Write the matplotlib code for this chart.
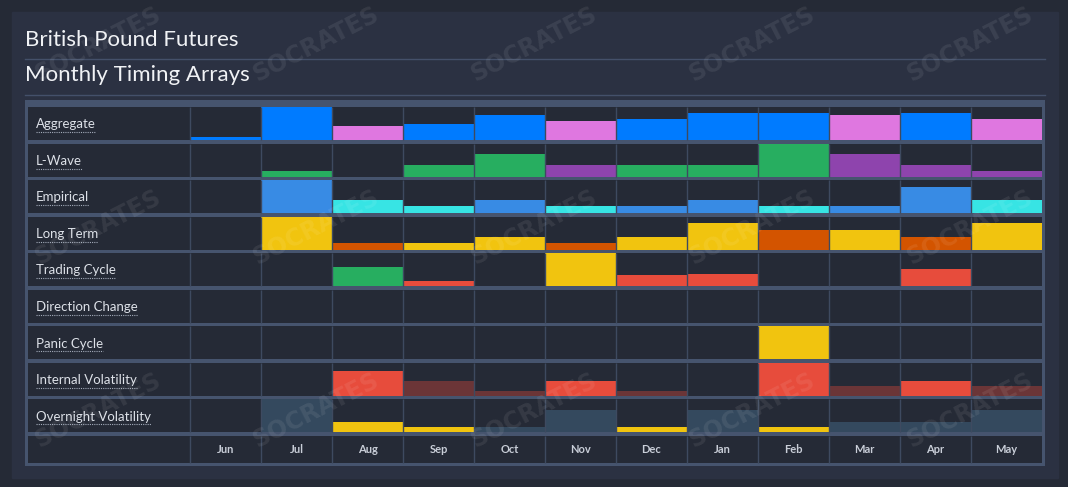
import numpy as np
import matplotlib
matplotlib.use('Agg')
import matplotlib.pyplot as plt
from matplotlib.patches import Rectangle

# --- data ---
months = ['Jun', 'Jul', 'Aug', 'Sep', 'Oct', 'Nov',
          'Dec', 'Jan', 'Feb', 'Mar', 'Apr', 'May']
arrays = ['Aggregate', 'L-Wave', 'Empirical', 'Long Term', 'Trading Cycle',
          'Direction Change', 'Panic Cycle', 'Internal Volatility',
          'Overnight Volatility']

aggregate = [0.08, 1.0, 0.41, 0.49, 0.75, 0.58, 0.65, 0.82, 0.82, 0.75, 0.82, 0.65]
aggregate_k = 'BBPBBPBBBPBP'
lwave = [0, 0.17, 0, 0.34, 0.67, 0.34, 0.34, 0.34, 1.0, 0.67, 0.34, 0.17]
lwave_k = 'GGGGGVGGGVVV'
empirical = [0, 1.0, 0.41, 0.21, 0.41, 0.21, 0.21, 0.41, 0.21, 0.21, 0.79, 0.41]
empirical_k = 'LLCCLCLLCLLC'
longterm = [0, 1.0, 0.2, 0.2, 0.39, 0.2, 0.39, 0.8, 0.59, 0.59, 0.39, 0.8]
longterm_k = 'YYOYYOYYOYOY'
trading = [0, 0, 0.57, 0.15, 0, 1.0, 0.33, 0.38, 0, 0, 0.53, 0]
trading_k = 'RRGRRYRRRRRR'
direction = [0] * 12
direction_k = 'YYYYYYYYYYYY'
panic = [0, 0, 0, 0, 0, 0, 0, 0, 1.0, 0, 0, 0]
panic_k = 'YYYYYYYYYYYY'
internal = [0, 0, 0.74, 0.44, 0.15, 0.44, 0.15, 0, 1.0, 0.29, 0.44, 0.29]
internal_k = 'RRRDDRDRRDRD'
overnight = [0, 1.0, 0.33, 0.15, 0.15, 0.67, 0.15, 0.67, 0.15, 0.33, 0.33, 0.67]
overnight_k = 'SSYYSSYSYSSS'

values = [aggregate, lwave, empirical, longterm, trading,
          direction, panic, internal, overnight]
kinds = [aggregate_k, lwave_k, empirical_k, longterm_k, trading_k,
         direction_k, panic_k, internal_k, overnight_k]

palette = {'B': '#007bff', 'P': '#df77e0', 'G': '#27ae60', 'V': '#8e44ad',
           'L': '#388be4', 'C': '#37e4e4', 'Y': '#f1c40f', 'O': '#d35400',
           'R': '#e74c3c', 'D': '#6b3537', 'S': '#34495e'}

W, H = 1068, 487
BG = '#252a36'
PANEL = '#2b3142'
FRAME = '#46546e'
CELL = '#252a36'
VLINE = '#3e4a60'
TXT = '#dde1e8'
plt.rcParams['font.family'] = ['Lato', 'DejaVu Sans']


def fx(x):
    return x / W


def fy(y):
    return 1 - y / H


fig = plt.figure(figsize=(W / 100, H / 100), dpi=100, facecolor=BG)
fig.patches.append(Rectangle((fx(12), fy(478)), 1046 / W, 466 / H,
                             transform=fig.transFigure, color=PANEL, zorder=-5))

# titles and separators
fig.text(fx(25), fy(46), 'British Pound Futures', fontsize=16,
         color='#f0f2f5', va='baseline')
fig.text(fx(25), fy(81), 'Monthly Timing Arrays', fontsize=16,
         color='#f0f2f5', va='baseline')
for yy in (59, 95):
    fig.add_artist(plt.Line2D([fx(25), fx(1045)], [fy(yy), fy(yy)],
                              transform=fig.transFigure, color='#44506a', lw=1))

# grid axes: x unit = one month column, y unit = one row pitch
pitch = 36.55
colw = 71.0
inner = 33 / pitch
x_lo = -(190 - 25) / colw
x_hi = 12 + 3 / colw
lab_x = -(190 - 28) / colw
ax = fig.add_axes([fx(25), fy(466), 1020 / W, 366 / H])
ax.set_facecolor(FRAME)
ax.set_xlim(x_lo, x_hi)
ax.set_ylim((466 - 107) / pitch, -7 / pitch)
ax.set_xticks([])
ax.set_yticks([])
for s in ax.spines.values():
    s.set_visible(False)

xs = np.arange(len(months))
labels = []
for i, name in enumerate(arrays):
    ax.add_patch(Rectangle((lab_x, i), 12 - lab_x, inner, color=CELL, lw=0, zorder=1))
    v = np.array(values[i])
    cols = [palette[k] for k in kinds[i]]
    ax.bar(xs + 0.5, v * inner, width=1.0, bottom=i + inner - v * inner,
           color=cols, linewidth=0, zorder=2)
    ax.vlines(np.arange(0, 12), i, i + inner, color=VLINE, lw=1, zorder=3)
    t = ax.text(lab_x + 8 / colw, i + 21.3 / pitch, name, fontsize=9.5,
                color=TXT, va='baseline', ha='left', zorder=4)
    labels.append((t, i))

# month row
mrow = len(arrays)
mh = 27 / pitch
ax.add_patch(Rectangle((lab_x, mrow), 12 - lab_x, mh, color=CELL, lw=0, zorder=1))
ax.vlines(np.arange(0, 12), mrow, mrow + mh, color=VLINE, lw=1, zorder=3)
for j, m in enumerate(months):
    ax.text(j + 0.5, mrow + mh / 2, m, fontsize=8, color='#c9ced8',
            ha='center', va='center', fontweight='bold', zorder=4)

# dotted underline below each array name
fig.canvas.draw()
r = fig.canvas.get_renderer()
inv = ax.transData.inverted()
for t, i in labels:
    bb = t.get_window_extent(renderer=r)
    x0 = inv.transform((bb.x0, 0))[0]
    x1 = inv.transform((bb.x1, 0))[0]
    yu = i + 25 / pitch
    ax.plot([x0, x1], [yu, yu], color='#a3abba', lw=0.8,
            ls=(0, (1, 1)), zorder=4)

# watermark
for cy in (44, 227, 410):
    for cx in (98, 316, 534, 752, 970):
        fig.text(fx(cx), fy(cy), 'SOCRATES', fontsize=17, fontweight='bold',
                 color='white', alpha=0.08, rotation=27,
                 ha='center', va='center', family='DejaVu Sans', zorder=10)

fig.savefig('out.png', dpi=100, facecolor=BG)
